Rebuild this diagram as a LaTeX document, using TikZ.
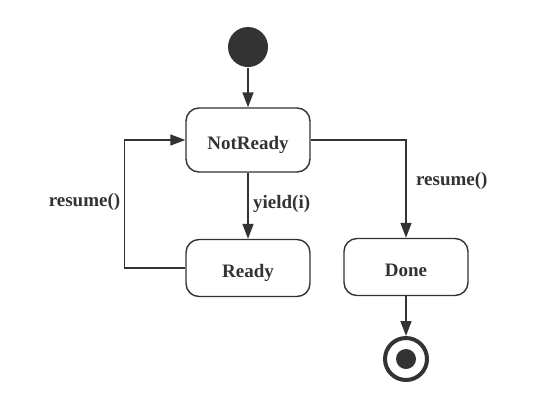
\documentclass[tikz,border=0pt]{standalone}
\usepackage{fontspec}
\setmainfont{Liberation Serif}
\usepackage{tikz}
\usetikzlibrary{arrows.meta}
\usetikzlibrary{positioning}

\definecolor{ink}{HTML}{333333}

\begin{document}
\begin{tikzpicture} [x=1pt,y=-1pt,line width=1.6pt,
     font=\fontsize{19}{22}\selectfont\bfseries, text=ink, text depth=0pt,
     st/.style={rectangle, rounded corners=13pt, draw=ink, line width=1.4pt, fill=white,
                minimum width=124pt, minimum height=57pt, text height=19pt},
     tr/.style={draw=ink, -{Triangle[length=15pt,width=11pt]}}
   ]
\useasboundingbox (0,0) rectangle (537,405);

\node (init) [circle, fill=ink, minimum size=40pt, inner sep=0] at (248,47) {};
\node (notready) [st, minimum height=64pt] at (248,140) {NotReady};
\node (ready) [st] at (248,268) {Ready};
\node (done) [st] at (406,267) {Done};
\node (final) [circle, draw=ink, line width=4pt, minimum size=42pt, inner sep=0] at (406,359) {};
\node (finaldot) [circle, fill=ink, minimum size=20pt, inner sep=0] at (final) {};

\draw[tr] (init) -- (notready);
\draw[tr] (notready) -- node[right=1pt, pos=0.44] {yield(i)} (ready);
\draw[tr] (ready.west) -- ++(-61,0) |- node[left, pos=0.266] {resume()} (notready.west);
\draw[tr] (notready.east) -| node[right=6pt, pos=0.70] {resume()} (done.north);
\draw[tr] (done) -- (final);
\end{tikzpicture}
\end{document}
